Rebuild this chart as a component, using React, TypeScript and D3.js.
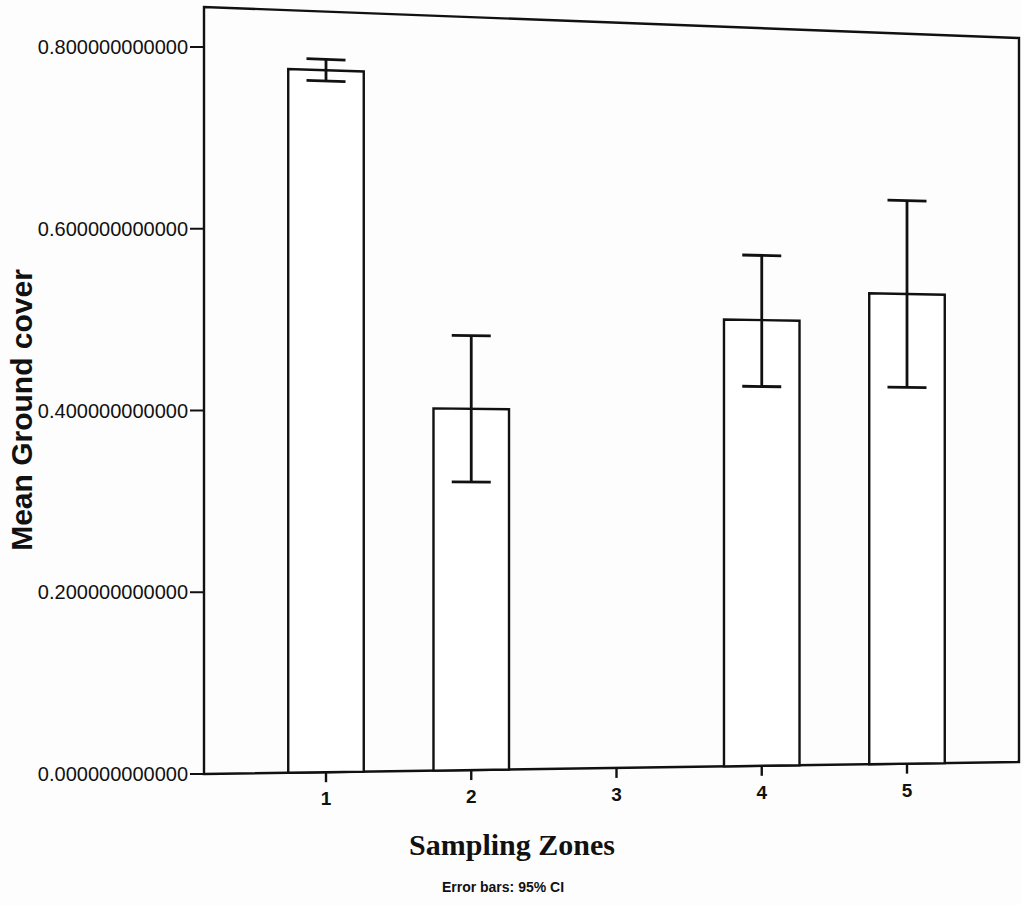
import React from "react";
import * as d3 from "d3";

const zones = ["1", "2", "3", "4", "5"];
const means: (number | null)[] = [0.779, 0.405, null, 0.51, 0.543];
const ciLow: (number | null)[] = [0.767, 0.323, null, 0.434, 0.435];
const ciHigh: (number | null)[] = [0.791, 0.487, null, 0.584, 0.651];
const yTicks = [0, 0.2, 0.4, 0.6, 0.8];
const yTitle = "Mean Ground cover";
const xTitle = "Sampling Zones";
const footnote = "Error bars: 95% CI";

const W = 1021;
const H = 905;
const frameLeft = 204;
const frameRight = 1019;
const yMax = 0.844;

// scanned page is slightly keystoned: bottom and top edges tilt
const bottomAt = d3.scaleLinear().domain([frameLeft, frameRight]).range([774, 762]);
const topAt = d3.scaleLinear().domain([frameLeft, frameRight]).range([7, 38]);
const yNorm = d3.scaleLinear().domain([0, yMax]).range([0, 1]);
const x = d3.scalePoint<string>().domain(zones).range([326, 907]);
const step = x.step();
const barW = step * 0.52;
const capHalf = 19.5;

const P = (px: number, v: number): [number, number] => [
  px,
  d3.interpolateNumber(bottomAt(px), topAt(px))(yNorm(v)),
];
const seg = (a: [number, number], b: [number, number]) => `M${a[0]},${a[1]}L${b[0]},${b[1]}`;
const poly = (pts: [number, number][]) => "M" + pts.map((p) => p.join(",")).join("L") + "Z";

const fmt = d3.format(".12f");

export default function App() {
  const sans = "'Liberation Sans', Arial, Helvetica, sans-serif";
  const serif = "'Liberation Serif', 'Times New Roman', serif";
  return (
    <svg
      width={W}
      height={H}
      style={{ position: "absolute", left: 0, top: 0, background: "#fdfdfd" }}
    >
      {/* frame */}
      <path
        d={poly([P(frameLeft, 0), P(frameRight, 0), P(frameRight, yMax), P(frameLeft, yMax)])}
        fill="none"
        stroke="#111"
        strokeWidth={2.4}
      />
      {/* y ticks */}
      {yTicks.map((t) => {
        const [px, py] = P(frameLeft, t);
        return (
          <g key={t}>
            <line x1={px - 14} x2={px} y1={py} y2={py} stroke="#111" strokeWidth={2} />
            <text
              x={px - 16}
              y={py}
              dy="0.36em"
              textAnchor="end"
              fontFamily={sans}
              fontSize={20}
              fill="#111"
            >
              {fmt(t)}
            </text>
          </g>
        );
      })}
      {/* x ticks */}
      {zones.map((z) => {
        const cx = x(z)!;
        const [px, py] = P(cx, 0);
        return (
          <g key={z}>
            <line x1={px} x2={px} y1={py} y2={py + 10} stroke="#111" strokeWidth={2.4} />
            <text
              x={px}
              y={py + 33}
              textAnchor="middle"
              fontFamily={sans}
              fontWeight="bold"
              fontSize={19}
              fill="#111"
            >
              {z}
            </text>
          </g>
        );
      })}
      {/* bars */}
      {zones.map((z, i) => {
        const m = means[i];
        if (m == null) return null;
        const cx = x(z)!;
        const l = cx - barW / 2;
        const r = cx + barW / 2;
        return (
          <path
            key={"b" + z}
            d={poly([P(l, 0), P(l, m), P(r, m), P(r, 0)])}
            fill="#fff"
            stroke="#111"
            strokeWidth={2.4}
          />
        );
      })}
      {/* error bars */}
      {zones.map((z, i) => {
        const lo = ciLow[i];
        const hi = ciHigh[i];
        if (lo == null || hi == null) return null;
        const cx = x(z)!;
        return (
          <g key={"e" + z} stroke="#111" strokeWidth={2.8} fill="none">
            <path d={seg(P(cx, lo), P(cx, hi))} />
            <path d={seg(P(cx - capHalf, hi), P(cx + capHalf, hi))} />
            <path d={seg(P(cx - capHalf, lo), P(cx + capHalf, lo))} />
          </g>
        );
      })}
      {/* titles */}
      <text
        transform="translate(32,410) rotate(-90)"
        textAnchor="middle"
        fontFamily={sans}
        fontWeight="bold"
        fontSize={30}
        fill="#111"
      >
        {yTitle}
      </text>
      <text
        x={512}
        y={855}
        textAnchor="middle"
        fontFamily={serif}
        fontWeight="bold"
        fontSize={30}
        fill="#111"
      >
        {xTitle}
      </text>
      <text
        x={503}
        y={892}
        textAnchor="middle"
        fontFamily={sans}
        fontWeight="bold"
        fontSize={14}
        fill="#111"
      >
        {footnote}
      </text>
    </svg>
  );
}
